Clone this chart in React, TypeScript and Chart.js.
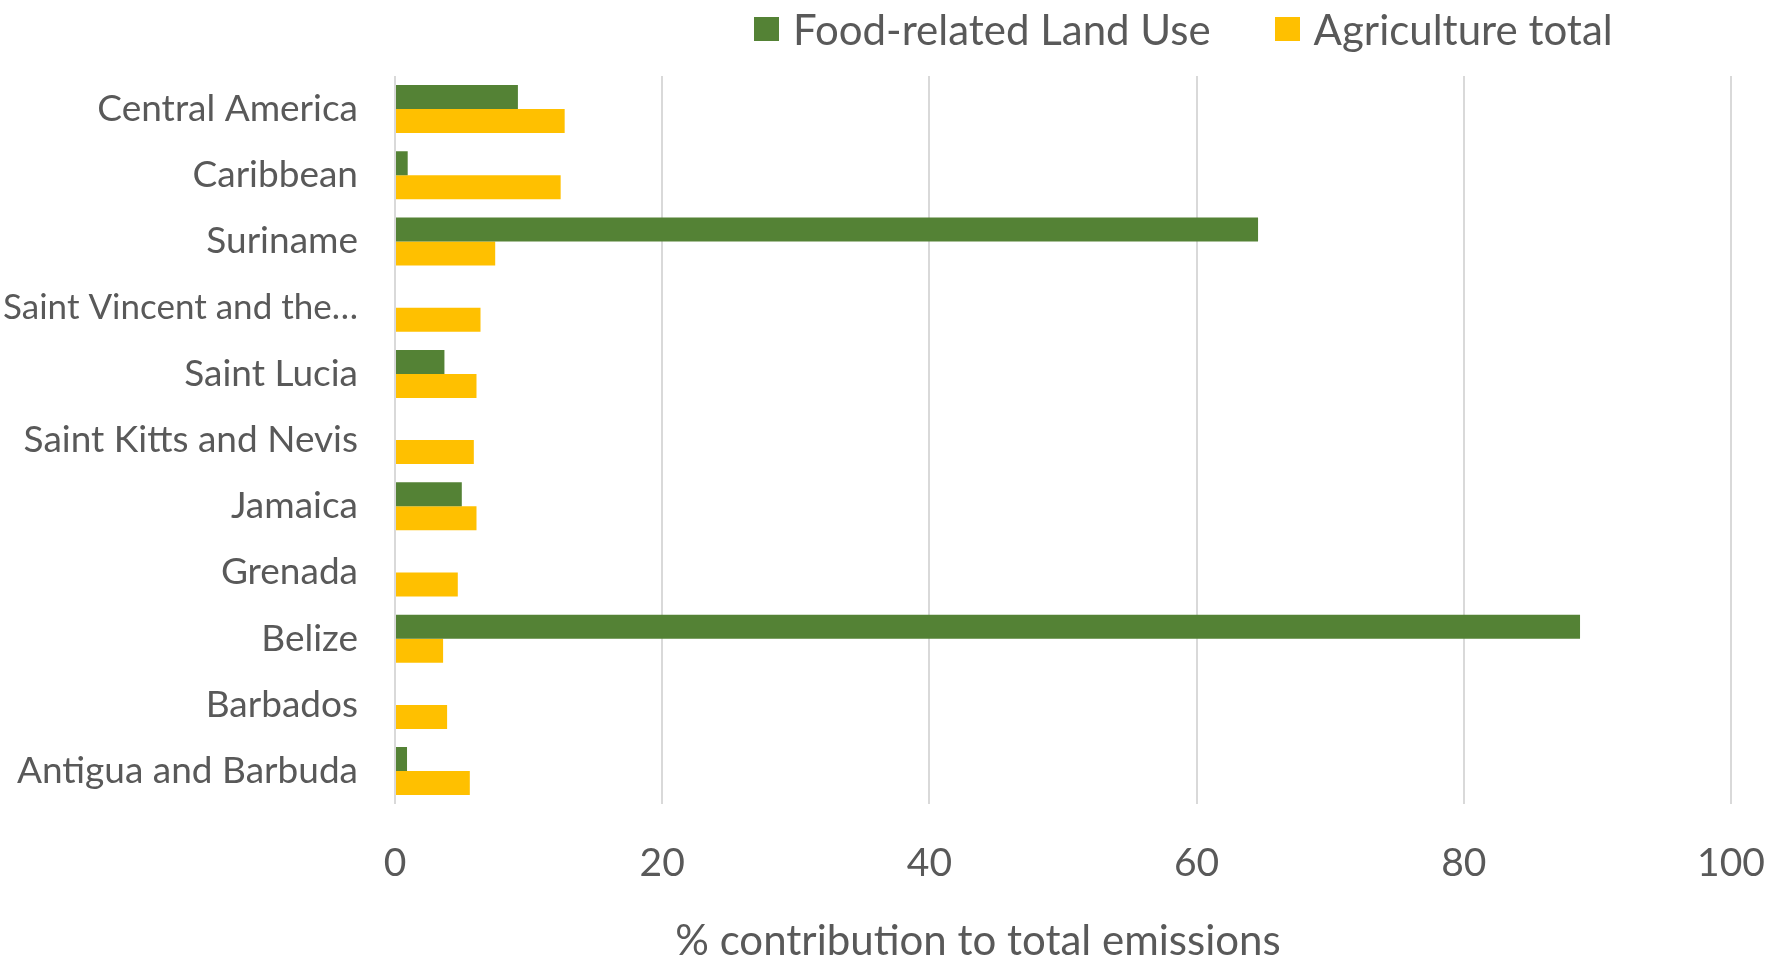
import React, { useEffect, useRef } from "react";
import { Chart, registerables } from "chart.js";

Chart.register(...registerables);

const categories = [
  "Central America",
  "Caribbean",
  "Suriname",
  "Saint Vincent and the…",
  "Saint Lucia",
  "Saint Kitts and Nevis",
  "Jamaica",
  "Grenada",
  "Belize",
  "Barbados",
  "Antigua and Barbuda",
];

const landUse: (number | null)[] = [9.2, 0.95, 64.6, null, 3.7, null, 5.0, null, 88.7, null, 0.9];
const agricultureTotal: number[] = [12.7, 12.4, 7.5, 6.4, 6.1, 5.9, 6.1, 4.7, 3.6, 3.9, 5.6];

const seriesNames = ["Food-related Land Use", "Agriculture total"];
const seriesColors = ["#548235", "#FFC000"];

const xMin = 0;
const xMax = 100;
const xStep = 20;
const xTitle = "% contribution to total emissions";

const FONT = 'Lato, "Open Sans", sans-serif';
const TEXT = "#595959";

export default function App() {
  const ref = useRef<HTMLCanvasElement | null>(null);

  useEffect(() => {
    if (!ref.current) return;
    const chart = new Chart(ref.current, {
      type: "bar",
      data: {
        labels: categories,
        datasets: [
          {
            label: seriesNames[0],
            data: landUse,
            backgroundColor: seriesColors[0],
            borderWidth: 0,
            categoryPercentage: 0.725,
            barPercentage: 1,
          },
          {
            label: seriesNames[1],
            data: agricultureTotal,
            backgroundColor: seriesColors[1],
            borderWidth: 0,
            categoryPercentage: 0.725,
            barPercentage: 1,
          },
        ],
      },
      options: {
        indexAxis: "y",
        responsive: false,
        animation: false,
        layout: { padding: { top: 76, right: 38, bottom: 72, left: 0 } },
        plugins: {
          legend: { display: false },
          tooltip: { enabled: false },
        },
        scales: {
          x: {
            min: xMin,
            max: xMax,
            ticks: {
              stepSize: xStep,
              padding: 0,
              color: TEXT,
              font: { family: FONT, size: 39, lineHeight: 1.2 },
            },
            grid: {
              color: "#d9d9d9",
              lineWidth: 2,
              drawTicks: true,
              tickLength: 36,
              tickColor: "rgba(0,0,0,0)",
            },
            border: { display: false },
            title: { display: false },
          },
          y: {
            ticks: {
              padding: 29,
              color: TEXT,
              font: (ctx: any) => ({ family: FONT, size: ctx.index === 3 ? 35 : 37 }),
            },
            grid: { display: false },
            border: { display: false },
            afterFit: (s: any) => {
              s.width = 395;
            },
          },
        },
      },
    });
    return () => chart.destroy();
  }, []);

  return (
    <div style={{ position: "fixed", left: 0, top: 0, width: 1769, height: 959, background: "#fff" }}>
      <canvas ref={ref} width={1769} height={959} style={{ position: "absolute", left: 0, top: 0 }} />
      <div
        style={{
          position: "absolute",
          left: 754,
          top: 4,
          display: "flex",
          alignItems: "center",
          fontFamily: FONT,
          fontSize: 42,
          color: TEXT,
          lineHeight: "50px",
          whiteSpace: "nowrap",
        }}
      >
        {seriesNames.map((n, i) => (
          <div key={n} style={{ display: "flex", alignItems: "center", marginRight: i === 0 ? 64 : 0 }}>
            <span style={{ display: "inline-block", width: 25, height: 24, background: seriesColors[i], marginRight: 14 }} />
            <span>{n}</span>
          </div>
        ))}
      </div>
      <div
        style={{
          position: "absolute",
          left: 0,
          width: 1956,
          top: 914,
          textAlign: "center",
          fontFamily: FONT,
          fontSize: 42,
          lineHeight: "50px",
          color: TEXT,
          whiteSpace: "nowrap",
        }}
      >
        {xTitle}
      </div>
    </div>
  );
}
